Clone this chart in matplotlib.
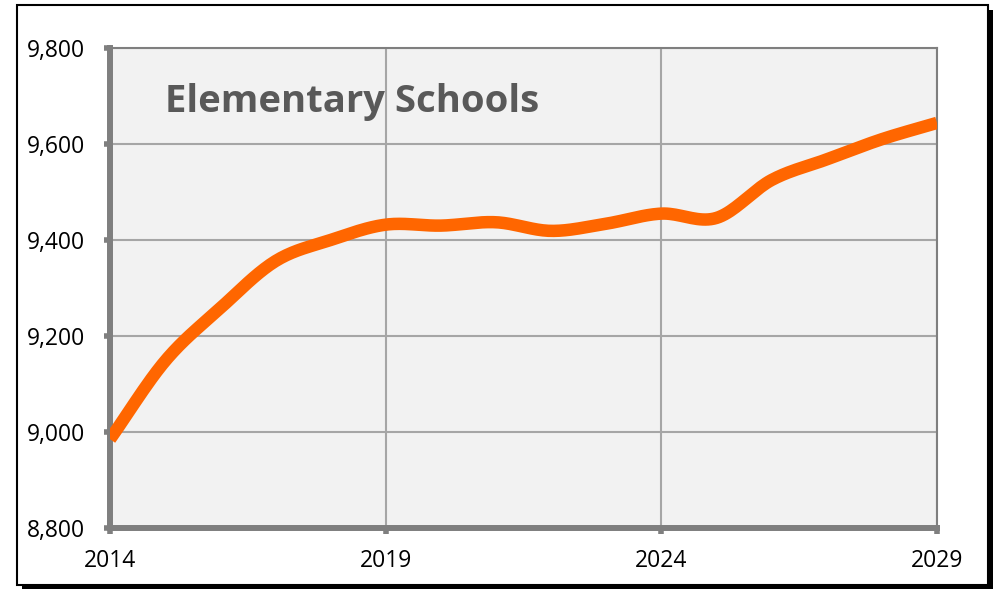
import numpy as np
import matplotlib.pyplot as plt
from matplotlib.patches import Rectangle
from matplotlib.ticker import FuncFormatter

# Data
years = list(range(2014, 2030))
students = [8985, 9148, 9258, 9356, 9400, 9432, 9430, 9437, 9419, 9434,
            9455, 9446, 9525, 9568, 9610, 9644]
title_text = "Elementary Schools"
x_ticks = [2014, 2019, 2024, 2029]
y_ticks = [8800, 9000, 9200, 9400, 9600, 9800]


def smooth(xs, ys, n=20):
    # Catmull-Rom curve through the points, like a smoothed line in a spreadsheet
    xs = np.asarray(xs, float)
    ys = np.asarray(ys, float)
    px = np.concatenate([[2 * xs[0] - xs[1]], xs, [2 * xs[-1] - xs[-2]]])
    py = np.concatenate([[2 * ys[0] - ys[1]], ys, [2 * ys[-1] - ys[-2]]])
    out_x, out_y = [], []
    t = np.linspace(0, 1, n, endpoint=False)
    for i in range(1, len(px) - 2):
        for p, out in ((px, out_x), (py, out_y)):
            p0, p1, p2, p3 = p[i - 1], p[i], p[i + 1], p[i + 2]
            out.extend(0.5 * ((2 * p1) + (-p0 + p2) * t
                              + (2 * p0 - 5 * p1 + 4 * p2 - p3) * t**2
                              + (-p0 + 3 * p1 - 3 * p2 + p3) * t**3))
    out_x.append(xs[-1])
    out_y.append(ys[-1])
    return np.array(out_x), np.array(out_y)


plt.rcParams['font.family'] = ['Open Sans', 'DejaVu Sans']

fig = plt.figure(figsize=(10.03, 5.92), dpi=100)

# frame with drop shadow around the whole chart
fig.patches.append(Rectangle((0.022, 0.005), 0.968, 0.978, transform=fig.transFigure,
                             facecolor='black', edgecolor='none', zorder=-2))
fig.patches.append(Rectangle((0.017, 0.012), 0.968, 0.979, transform=fig.transFigure,
                             facecolor='white', edgecolor='black', linewidth=1.5, zorder=-1))

ax = fig.add_axes([0.1097, 0.1081, 0.8245, 0.8108])
ax.set_zorder(2)
ax.set_facecolor('#f2f2f2')

sx, sy = smooth(years, students)
ax.plot(sx, sy, color='#ff6600', linewidth=9, solid_capstyle='butt', zorder=3)

ax.set_xlim(2014, 2029)
ax.set_ylim(8800, 9800)
ax.set_xticks(x_ticks)
ax.set_yticks(y_ticks)
ax.yaxis.set_major_formatter(FuncFormatter(lambda v, p: f'{int(v):,}'))
ax.grid(True, color='#a6a6a6', linewidth=1.5, zorder=1)
ax.set_axisbelow(True)

for side in ['left', 'bottom']:
    ax.spines[side].set_color('#7f7f7f')
    ax.spines[side].set_linewidth(4.3)
for side in ['top', 'right']:
    ax.spines[side].set_color('#7f7f7f')
    ax.spines[side].set_linewidth(1.5)

ax.tick_params(axis='both', direction='out', length=4, width=4, color='#7f7f7f',
               labelsize=16.5, labelcolor='black')
ax.tick_params(axis='y', pad=14)
ax.tick_params(axis='x', pad=11)

ax.text(2015.0, 9688, title_text, fontsize=27.5, fontweight='bold', color='#595959',
        va='center', ha='left')

fig.savefig('out.png', dpi=100)
